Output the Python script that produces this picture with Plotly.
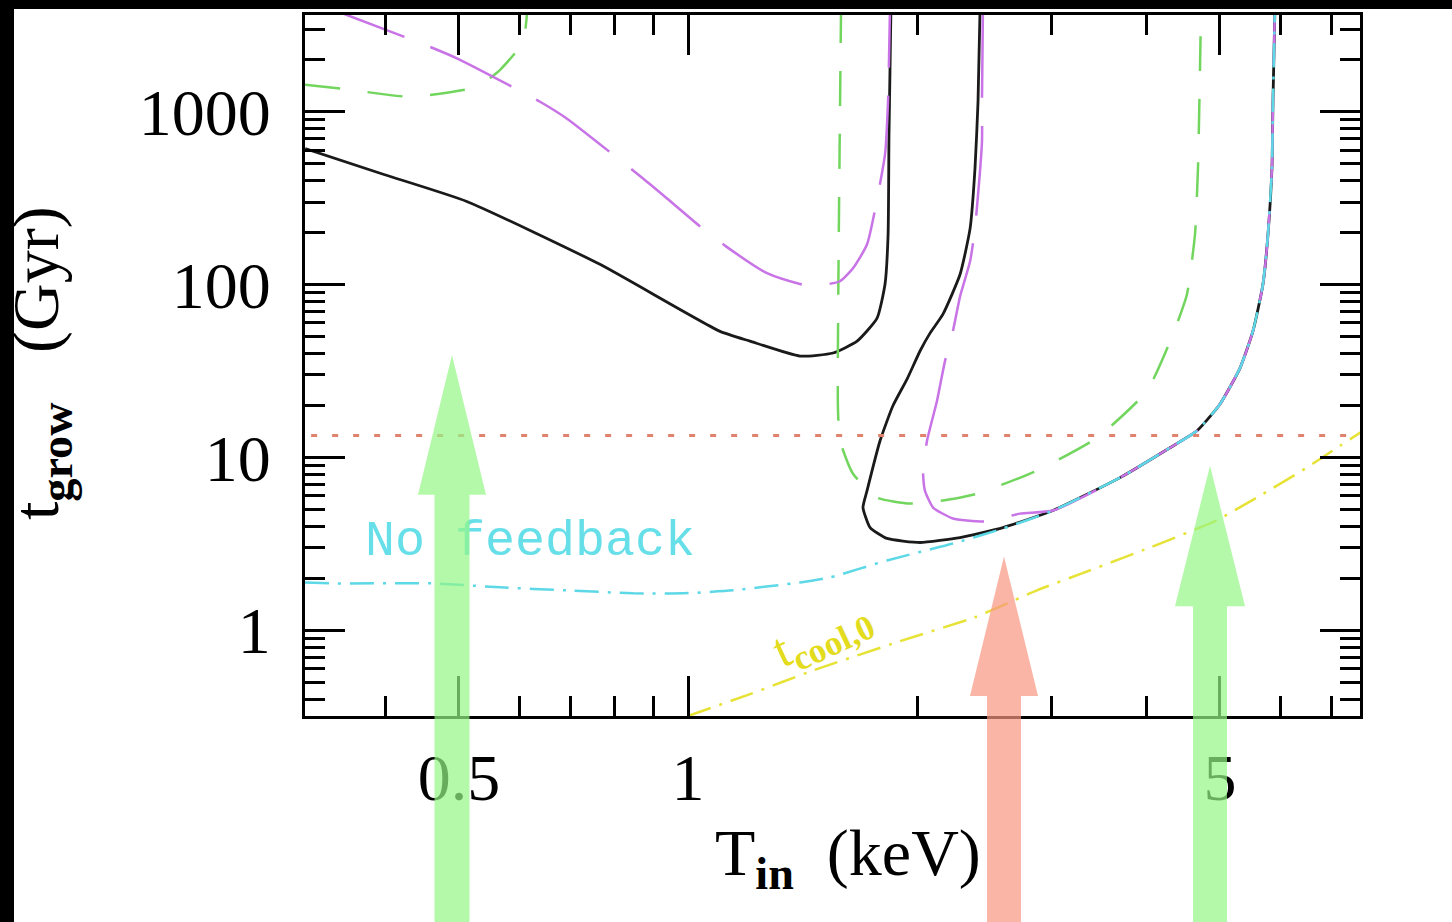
import plotly.graph_objects as go
import math

# ---------------- data (T_in in keV, t_grow in Gyr) -------------
black_left_T = [0.314, 0.3985, 0.512, 0.766, 1.10, 1.206, 1.404, 1.551, 1.668, 1.772, 1.815, 1.832, 1.837, 1.848]
black_left_t = [612, 434, 303, 131, 53.8, 47.1, 38.6, 40.2, 47.1, 64.0, 100.5, 195, 738, 4000]

black_right_T = [2.420, 2.405, 2.383, 2.348, 2.278, 2.163, 2.080, 2.018, 1.941, 1.859, 1.788, 1.719, 1.698,
                 1.735, 1.826, 2.018, 2.278, 2.594, 3.017, 3.696, 4.299, 4.665, 5.003, 5.314, 5.526, 5.696,
                 5.783, 5.853, 5.871, 5.906]
black_right_t = [4000, 1144, 470, 211.5, 114.8, 67.5, 52.4, 41.3, 28.5, 19.9, 12.49, 6.43, 5.13,
                 3.93, 3.40, 3.22, 3.44, 3.93, 4.93, 7.64, 11.38, 14.26, 20.4, 32.9, 53.8, 100.5,
                 195, 470, 1144, 4000]

magenta_left_T = [0.3285, 0.3563, 0.4581, 0.4985, 0.6390, 0.6934, 0.8728, 0.9384, 1.037, 1.1218, 1.2701,
                  1.4464, 1.5838, 1.6474, 1.719, 1.8149, 1.8315, 1.8427]
magenta_left_t = [4150, 3633, 2375, 2025, 1144, 912.6, 411, 315.2, 217.3, 166.5, 116.4,
                  97.9, 104.6, 124.3, 171.1, 565.6, 1144, 4000]

magenta_right_T = [2.441, 2.434, 2.434, 2.383, 2.348, 2.278, 2.229, 2.176, 2.124, 2.061, 2.036, 2.048, 2.099,
                   2.229, 2.471, 2.731, 3.017, 3.696, 4.299, 4.665, 5.003, 5.314, 5.526, 5.696, 5.783,
                   5.853, 5.871, 5.906]
magenta_right_t = [4000, 1144, 672, 211.5, 136.5, 85.7, 53.8, 36.1, 21.2, 12.49, 8.38, 6.43, 5.13,
                   4.43, 4.26, 4.73, 4.93, 7.64, 11.38, 14.26, 20.4, 32.9, 53.8, 100.5, 195,
                   470, 1144, 4000]

green_top_T = [0.3138, 0.352, 0.4311, 0.528, 0.5662, 0.6069, 0.616]
green_top_t = [1434, 1359, 1222, 1396, 1750, 2538, 4318]

green_low_T = [1.589, 1.574, 1.584, 1.6474, 1.7715, 1.957, 2.163, 2.398, 2.874, 3.447, 4.010, 4.339,
               4.526, 4.637, 4.679, 4.708, 4.722]
green_low_t = [4000, 19.36, 12.49, 8.05, 5.85, 5.41, 5.63, 6.17, 8.38, 12.99, 24.26, 51.7,
               88.0, 195.4, 469.6, 1774, 4000]

nofb_T = [0.3138, 0.3417, 0.4623, 0.5662, 0.6934, 0.8467, 0.985, 1.146, 1.4036, 1.537, 1.826, 2.229,
          2.594, 3.017, 3.696, 4.299, 4.665, 5.003, 5.314, 5.526, 5.696, 5.783, 5.853, 5.871, 5.906]
nofb_t = [1.892, 1.867, 1.867, 1.771, 1.702, 1.635, 1.635, 1.702, 1.892, 2.022, 2.535, 3.177,
          3.879, 4.93, 7.64, 11.38, 14.26, 20.4, 32.9, 53.8, 100.5, 195, 470, 1144, 4000]

tcool_T = [1.0, 1.2064, 1.464, 1.899, 2.383, 2.874, 3.294, 4.047, 4.942, 5.645, 6.469, 7.192, 7.638, 7.993]
tcool_t = [0.319, 0.427, 0.5877, 0.864, 1.189, 1.702, 2.133, 3.012, 4.313, 6.01, 8.605, 11.68, 13.88, 15.86]

hubble_T = [0.30, 8.0]
hubble_t = [13.4, 13.4]

x_range = [0.3138, 7.64]
y_range = [0.319, 3633]
x_major = [0.5, 1, 5]
x_major_text = ["0.5", "1", "5"]
x_minor = [0.4, 0.6, 0.7, 0.8, 0.9, 2, 3, 4, 6, 7]
y_major = [1, 10, 100, 1000]
y_major_text = ["1", "10", "100", "1000"]
y_minor = [0.4, 0.5, 0.6, 0.7, 0.8, 0.9] + [m * 10 ** k for k in range(0, 3) for m in range(2, 10)] + [2000, 3000]

nofb_label_pos = (0.62, 3.22)
tcool_label_pos = (1.50, 0.94)

# ---------------- figure ----------------
W, H = 1452, 922
L, R, T, B = 305, 92, 13, 206
PW, PH = W - L - R, H - T - B


def paper(px, py):
    return (px - L) / PW, (H - B - py) / PH


fig = go.Figure()


def line(x, y, color, width=2.5, dash="solid", smooth=0.5):
    fig.add_trace(go.Scatter(x=x, y=y, mode="lines",
                             line=dict(color=color, width=width, dash=dash, shape="spline", smoothing=smooth),
                             hoverinfo="skip"))


BLACK = "#1a1a1a"
MAGENTA = "#c873e6"
GREEN = "#72d65e"
CYAN = "#5cd8e6"
YELLOW = "#e6e236"
RED = "#e0826e"

line(black_left_T, black_left_t, BLACK, 2.8)
line(black_right_T, black_right_t, BLACK, 2.8)
line(green_top_T, green_top_t, GREEN, 2.5, "35px,28px")
line(green_low_T, green_low_t, GREEN, 2.5, "35px,28px")
line(magenta_left_T, magenta_left_t, MAGENTA, 2.5, "90px,28px")
line(magenta_right_T, magenta_right_t, MAGENTA, 2.5, "90px,28px")
line(nofb_T, nofb_t, CYAN, 2.5, "24px,9px,3px,9px")
line(tcool_T, tcool_t, YELLOW, 2.5, "24px,9px,3px,9px")
line(hubble_T, hubble_t, RED, 3, "6px,15px", 0)

fig.add_trace(go.Scatter(x=[nofb_label_pos[0]], y=[nofb_label_pos[1]], mode="text",
                         text=["No feedback"], textposition="middle center",
                         textfont=dict(family="Liberation Mono", size=50, color="#66dfe9"),
                         hoverinfo="skip"))

fig.add_annotation(x=math.log10(tcool_label_pos[0]), y=math.log10(tcool_label_pos[1]), xref="x", yref="y",
                   text="t<sub><b>cool,0</b></sub>", showarrow=False, textangle=-25,
                   font=dict(family="Liberation Serif", size=50, color="#e3dc1e"))

# axis titles
fig.add_annotation(x=paper(848, 0)[0], y=paper(0, 858)[1], xref="paper", yref="paper",
                   text="T<sub><b>in</b></sub>\u00a0\u00a0(keV)", showarrow=False,
                   xanchor="center", yanchor="middle",
                   font=dict(family="Liberation Serif", size=66, color="black"))
fig.add_annotation(x=paper(40, 0)[0], y=paper(0, 362)[1], xref="paper", yref="paper",
                   text="t<sub><b>grow</b></sub>\u00a0\u00a0\u00a0(Gyr)", showarrow=False, textangle=-90,
                   xanchor="center", yanchor="middle",
                   font=dict(family="Liberation Serif", size=66, color="black"))

axis_common = dict(type="log", showgrid=False, zeroline=False, showline=True, linecolor="black",
                   linewidth=3, mirror="allticks", ticks="inside", ticklen=40, tickwidth=2.5,
                   tickcolor="black", tickfont=dict(family="Liberation Serif", size=66, color="black"))

fig.update_xaxes(range=[math.log10(v) for v in x_range], tickmode="array", tickvals=x_major,
                 ticktext=x_major_text, ticklabelstandoff=2,
                 minor=dict(tickmode="array", tickvals=x_minor, ticks="inside", ticklen=20,
                            tickwidth=2.5, tickcolor="black", showgrid=False),
                 **axis_common)
fig.update_yaxes(range=[math.log10(v) for v in y_range], tickmode="array", tickvals=y_major,
                 ticktext=y_major_text, ticklabelstandoff=18,
                 minor=dict(tickmode="array", tickvals=y_minor, ticks="inside", ticklen=20,
                            tickwidth=2.5, tickcolor="black", showgrid=False),
                 **axis_common)


# translucent arrows overlaid on the picture
def arrow_path(cx, tip_y, base_y, head_half, shaft_half, bottom_y):
    pts = [(cx, tip_y), (cx + head_half, base_y), (cx + shaft_half, base_y), (cx + shaft_half, bottom_y),
           (cx - shaft_half, bottom_y), (cx - shaft_half, base_y), (cx - head_half, base_y)]
    p = [paper(*q) for q in pts]
    return "M " + " L ".join(f"{a:.5f},{b:.5f}" for a, b in p) + " Z"


arrows = [
    (452, 354, 494, 34, 17.5, 925, "rgb(148,246,133)"),
    (1004, 556, 696, 34, 17.0, 925, "rgb(248,150,128)"),
    (1210, 465, 606, 35, 17.0, 925, "rgb(148,246,133)"),
]
for cx, ty, by, hh, sh, bot, col in arrows:
    fig.add_shape(type="path", path=arrow_path(cx, ty, by, hh, sh, bot), xref="paper", yref="paper",
                  fillcolor=col, opacity=0.7, line=dict(width=0), layer="above")

# black screenshot borders (top and left)
x0, _ = paper(0, 0)
x1, _ = paper(W, 0)
_, ytop = paper(0, -2)
_, yband = paper(0, 7)
fig.add_shape(type="rect", x0=x0 - 0.01, x1=x1 + 0.01, y0=yband, y1=ytop, xref="paper", yref="paper",
              fillcolor="black", line=dict(width=0), layer="above")
xl, _ = paper(14, 0)
_, ybot = paper(0, H + 2)
fig.add_shape(type="rect", x0=x0 - 0.01, x1=xl, y0=ybot, y1=ytop, xref="paper", yref="paper",
              fillcolor="black", line=dict(width=0), layer="above")

fig.update_layout(width=W, height=H, margin=dict(l=L, r=R, t=T, b=B), paper_bgcolor="white",
                  plot_bgcolor="white", showlegend=False)

fig.write_html("out.html", config={"displayModeBar": False},
               post_script="document.body.style.margin='0px';document.body.style.overflow='hidden';")
